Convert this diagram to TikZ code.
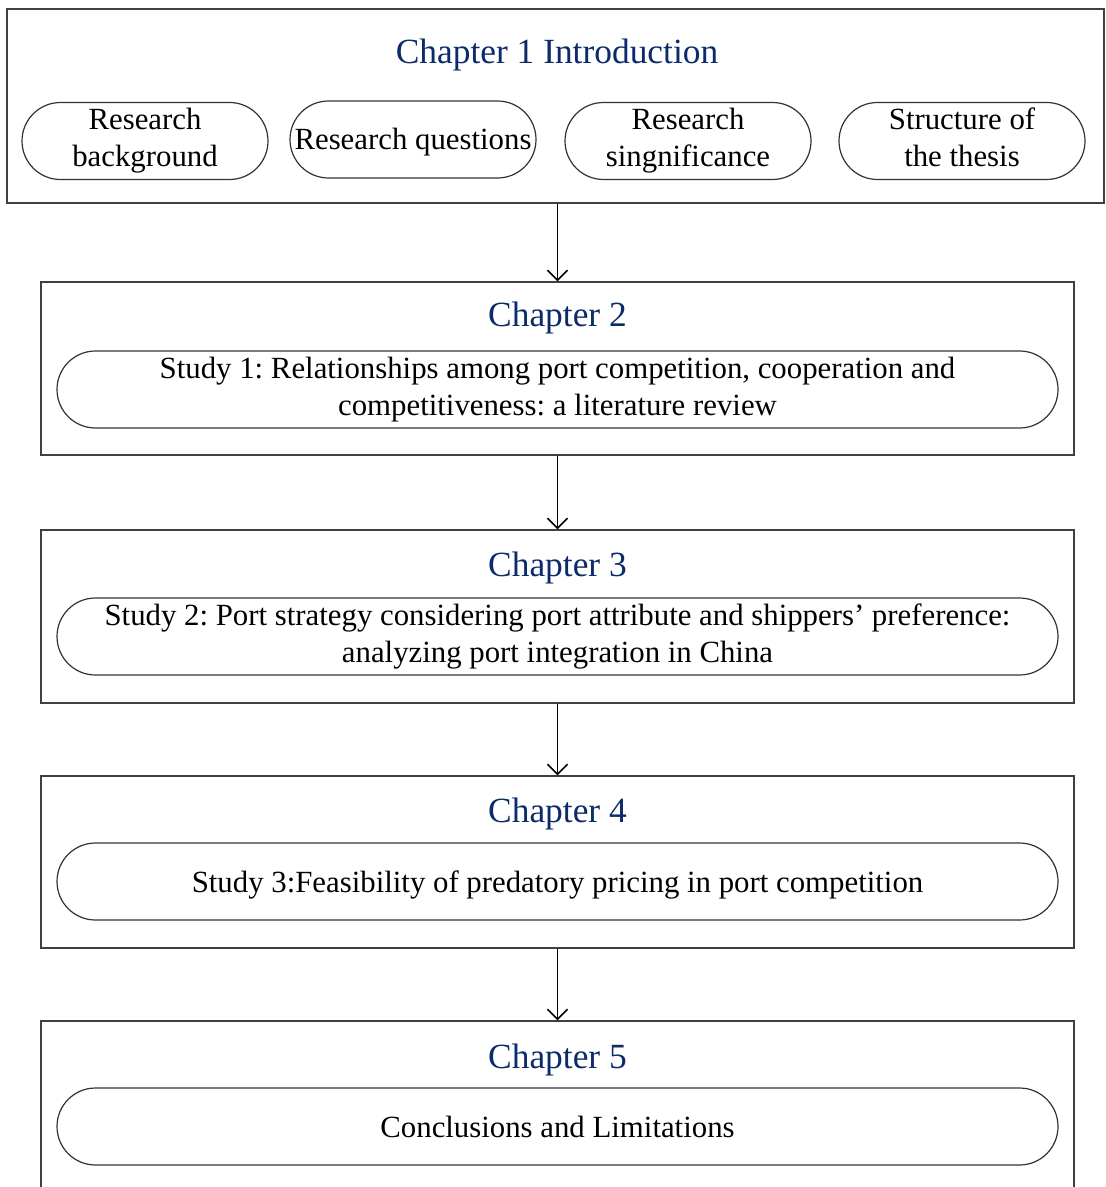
\documentclass[tikz,border=0pt]{standalone}
\usepackage{fontspec}
\setmainfont{Liberation Serif}
\frenchspacing
\usetikzlibrary{shapes.misc,arrows.meta}
\definecolor{chapblue}{HTML}{0B2B6B}

\tikzset{
  chapbox/.style={draw=black!75,line width=0.7pt,rectangle,inner sep=0pt},
  chaptitle/.style={text=chapblue,font=\fontsize{17.7}{21}\selectfont,inner sep=0pt},
  pill/.style={draw=black!80,line width=0.6pt,rounded rectangle,inner sep=0pt,
    minimum height=38.5pt,align=center,font=\fontsize{15.4}{18.5}\selectfont,
    execute at begin node={\rule{0pt}{14pt}},execute at end node={\rule[-3.5pt]{0pt}{3.5pt}}},
  flow/.style={-{Straight Barb[length=5pt,width=10pt]},line width=0.8pt}
}

\begin{document}
\begin{tikzpicture}[x=0.5pt,y=-0.5pt]
\clip (0,0) rectangle (1105,1187);
\path (555.5,106) node[chapbox,minimum width=548.5pt,minimum height=97pt] (ch1) {}
      (557,55) node[chaptitle] (t1) {Chapter 1 Introduction}
      (145,141) node[pill,minimum width=123pt] (bg) {Research\\background}
      (413,139.5) node[pill,minimum width=123pt] (rq) {Research questions}
      (688,141) node[pill,minimum width=123pt] (rs) {Research\\singnificance}
      (962,141) node[pill,minimum width=123pt] (st) {Structure of\\the thesis}
      ;
\path (557.5,368.5) node[chapbox,minimum width=516.5pt,minimum height=86.5pt] (ch2) {}
      (557.5,318) node[chaptitle] (t2) {Chapter 2}
      (557.5,389.5) node[pill,minimum width=500.5pt] (s1) {Study 1: Relationships among port competition, cooperation and\\competitiveness: a literature review}
      ;
\path (557.5,616.5) node[chapbox,minimum width=516.5pt,minimum height=86.5pt] (ch3) {}
      (557.5,568) node[chaptitle] (t3) {Chapter 3}
      (557.5,636.5) node[pill,minimum width=500.5pt] (s2) {Study 2: Port strategy considering port attribute and shippers' preference:\\analyzing port integration in China}
      ;
\path (557.5,862) node[chapbox,minimum width=516.5pt,minimum height=86pt] (ch4) {}
      (557.5,814) node[chaptitle] (t4) {Chapter 4}
      (557.5,881.5) node[pill,minimum width=500.5pt] (s3) {Study 3:Feasibility of predatory pricing in port competition}
      ;
\path (557.5,1107.5) node[chapbox,minimum width=516.5pt,minimum height=86.5pt] (ch5) {}
      (557.5,1060) node[chaptitle] (t5) {Chapter 5}
      (557.5,1126.5) node[pill,minimum width=500.5pt] (cl) {Conclusions and Limitations}
      ;
\draw [flow] (ch1.south -| ch2.north) -- (ch2.north);
\draw [flow] (ch2.south) -- (ch3.north);
\draw [flow] (ch3.south) -- (ch4.north);
\draw [flow] (ch4.south) -- (ch5.north);
\end{tikzpicture}
\end{document}
